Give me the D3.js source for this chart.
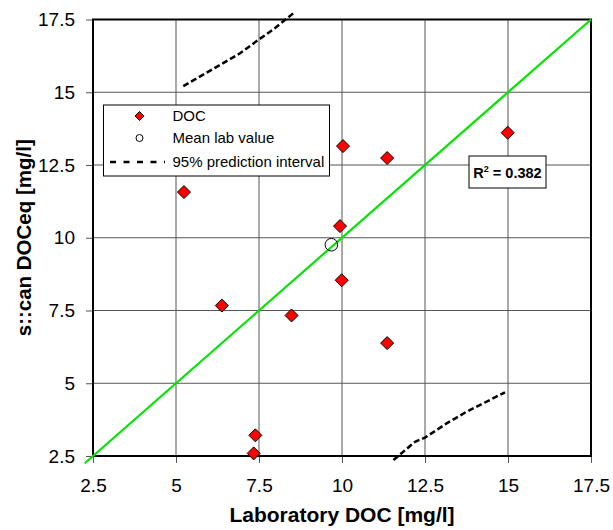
<!DOCTYPE html>
<html>
<head>
<meta charset="utf-8">
<script src="https://cdn.jsdelivr.net/npm/d3@7"></script>
<style>
  body { margin: 0; background: #fff; }
  svg { font-family: "Liberation Sans", Arial, sans-serif; }
</style>
</head>
<body>
<div id="chart"></div>
<script>
// measured points
const labDOC  = [5.24, 6.38, 8.48, 9.94, 9.99, 7.39, 7.34, 10.03, 11.36, 11.36, 14.99];
const scanDOC = [11.57, 7.67, 7.33, 10.40, 8.54, 3.21, 2.59, 13.15, 12.74, 6.38, 13.61];
const meanLab = [9.68, 9.76];

// 95% prediction interval branches
const upperX = [5.22, 6.33, 6.93, 7.48, 7.93, 8.55];
const upperY = [15.21, 15.94, 16.34, 16.80, 17.16, 17.73];
const lowerX = [11.55, 11.85, 12.2, 12.5, 13.15, 13.75, 14.91];
const lowerY = [2.36, 2.65, 2.99, 3.13, 3.62, 4.02, 4.69];

const oneToOne = [2.25, 17.5];
const tickVals = [2.5, 5, 7.5, 10, 12.5, 15, 17.5];
const r2Label = "0.382";

const margin = {top: 19.5, right: 22, bottom: 74, left: 93};
const width = 498, height = 436.5;

const svg = d3.select("#chart").append("svg")
  .attr("width", 613)
  .attr("height", 530);

const g = svg.append("g")
  .attr("transform", "translate(" + margin.left + "," + margin.top + ")");

const x = d3.scaleLinear().domain([2.5, 17.5]).range([0, width]);
const y = d3.scaleLinear().domain([2.5, 17.5]).range([height, 0]);
const fmt = d => String(d);

// grid
g.append("g").selectAll("line").data(tickVals.slice(1, -1)).join("line")
  .attr("x1", d => x(d)).attr("x2", d => x(d))
  .attr("y1", 0).attr("y2", height)
  .attr("stroke", "#555").attr("stroke-width", 1);
g.append("g").selectAll("line").data(tickVals.slice(1, -1)).join("line")
  .attr("y1", d => y(d)).attr("y2", d => y(d))
  .attr("x1", 0).attr("x2", width)
  .attr("stroke", "#555").attr("stroke-width", 1);

// axes
const xAxis = g.append("g")
  .attr("transform", "translate(0," + height + ")")
  .call(d3.axisBottom(x).tickValues(tickVals).tickFormat(fmt).tickSize(7).tickPadding(16));
const yAxis = g.append("g")
  .call(d3.axisLeft(y).tickValues(tickVals).tickFormat(fmt).tickSize(7).tickPadding(11));
[xAxis, yAxis].forEach(a => {
  a.select(".domain").remove();
  a.selectAll(".tick line").attr("stroke", "#555");
  a.selectAll(".tick text").attr("font-size", 19).attr("fill", "#000")
    .attr("font-family", "'Liberation Sans', Arial, sans-serif");
});

// frame
g.append("rect")
  .attr("width", width).attr("height", height)
  .attr("fill", "none").attr("stroke", "#000").attr("stroke-width", 2);

// 1:1 line
g.append("line")
  .attr("x1", x(oneToOne[0])).attr("y1", y(oneToOne[0]))
  .attr("x2", x(oneToOne[1])).attr("y2", y(oneToOne[1]))
  .attr("stroke", "#00e600").attr("stroke-width", 2.2);

// prediction interval
const line = d3.line().x(d => x(d[0])).y(d => y(d[1]));
[[upperX, upperY], [lowerX, lowerY]].forEach(p => {
  g.append("path")
    .datum(d3.zip(p[0], p[1]))
    .attr("d", line)
    .attr("fill", "none")
    .attr("stroke", "#000")
    .attr("stroke-width", 2.5)
    .attr("stroke-dasharray", "6,3");
});

// points
const diamond = s => "M0," + (-s) + "L" + s + ",0L0," + s + "L" + (-s) + ",0Z";
g.append("g").selectAll("path").data(d3.zip(labDOC, scanDOC)).join("path")
  .attr("transform", d => "translate(" + x(d[0]) + "," + y(d[1]) + ")")
  .attr("d", diamond(6.5))
  .attr("fill", "#ff0000").attr("stroke", "#000").attr("stroke-width", 1);

g.append("circle")
  .attr("cx", x(meanLab[0])).attr("cy", y(meanLab[1]))
  .attr("r", 6.3)
  .attr("fill", "none").attr("stroke", "#000").attr("stroke-width", 1);

// legend
const leg = svg.append("g").attr("transform", "translate(103.5,105)");
leg.append("rect").attr("width", 226).attr("height", 71)
  .attr("fill", "#fff").attr("stroke", "#000").attr("stroke-width", 1);
leg.append("path").attr("transform", "translate(36,11)").attr("d", diamond(4.5))
  .attr("fill", "#ff0000").attr("stroke", "#000").attr("stroke-width", 1);
leg.append("circle").attr("cx", 36).attr("cy", 33).attr("r", 3.5)
  .attr("fill", "none").attr("stroke", "#000").attr("stroke-width", 1);
leg.append("line").attr("x1", 6.5).attr("x2", 61.5).attr("y1", 57).attr("y2", 57)
  .attr("stroke", "#000").attr("stroke-width", 2.5).attr("stroke-dasharray", "6,7.5");
const legText = ["DOC", "Mean lab value", "95% prediction interval"];
leg.selectAll("text.lt").data(legText).join("text")
  .attr("class", "lt")
  .attr("x", 69).attr("y", (d, i) => [11, 33, 57][i])
  .attr("dy", "0.35em")
  .attr("font-size", 15)
  .text(d => d);

// R2 box
const r2 = svg.append("g").attr("transform", "translate(469,156)");
r2.append("rect").attr("width", 77).attr("height", 32)
  .attr("fill", "#fff").attr("stroke", "#000").attr("stroke-width", 1);
const r2t = r2.append("text").attr("x", 38.5).attr("y", 21.5)
  .attr("text-anchor", "middle").attr("font-size", 14.5).attr("font-weight", "bold");
r2t.append("tspan").text("R");
r2t.append("tspan").attr("font-size", 9).attr("dy", -6).text("2");
r2t.append("tspan").attr("dy", 6).text(" = " + r2Label);

// axis titles
svg.append("text")
  .attr("x", margin.left + width / 2).attr("y", 522)
  .attr("text-anchor", "middle")
  .attr("font-size", 21).attr("font-weight", "bold")
  .text("Laboratory DOC [mg/l]");
svg.append("text")
  .attr("transform", "translate(31," + (margin.top + height / 2) + ") rotate(-90)")
  .attr("text-anchor", "middle")
  .attr("font-size", 20.5).attr("font-weight", "bold")
  .text("s::can DOCeq [mg/l]");
</script>
</body>
</html>
